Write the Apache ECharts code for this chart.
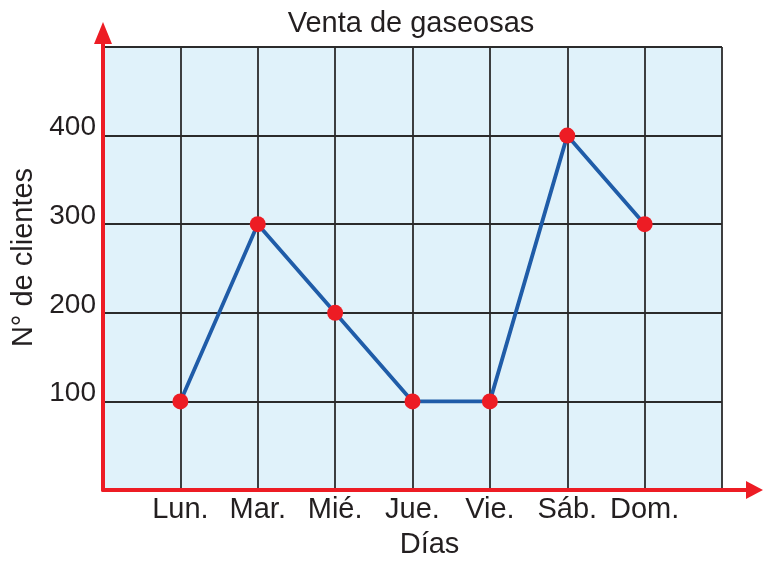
<!DOCTYPE html>
<html>
<head>
<meta charset="utf-8">
<script src="https://cdn.jsdelivr.net/npm/echarts@6/dist/echarts.min.js"></script>
<style>
  html, body { margin: 0; padding: 0; background: #ffffff; }
  #chart { width: 763px; height: 564px; }
</style>
</head>
<body>
<div id="chart"></div>
<script>
// Daily soda sales: number of customers per weekday
const days = ['Lun.', 'Mar.', 'Mié.', 'Jue.', 'Vie.', 'Sáb.', 'Dom.'];
const clientes = [100, 300, 200, 100, 100, 400, 300];
const yTicks = [100, 200, 300, 400];

// Empty slots at both ends leave a blank column on each side of the days
const categories = [''].concat(days, ['']);
const seriesData = ['-'].concat(clientes, ['-']);

const FONT = '"Liberation Sans", Arial, Helvetica, sans-serif';
const TEXT = '#231f20';
const RED = '#ed1c24';

const chart = echarts.init(document.getElementById('chart'), null, { renderer: 'canvas' });

chart.setOption({
  backgroundColor: '#ffffff',
  animation: false,
  title: {
    text: 'Venta de gaseosas',
    left: 406,
    top: 4,
    textAlign: 'center',
    textStyle: { fontFamily: FONT, fontSize: 29, fontWeight: 'normal', color: TEXT }
  },
  grid: {
    left: 103, right: 41, top: 47, bottom: 74,
    show: true,
    backgroundColor: '#e0f2fa',
    borderWidth: 0
  },
  xAxis: {
    type: 'category',
    data: categories,
    boundaryGap: false,
    name: 'Días',
    nameLocation: 'middle',
    nameGap: 40,
    nameTextStyle: { fontFamily: FONT, fontSize: 29, color: TEXT, padding: [0, 0, 0, 34] },
    axisLine: { show: true, lineStyle: { color: RED, width: 4 } },
    axisTick: { show: false },
    axisLabel: {
      fontFamily: FONT, fontSize: 29, color: TEXT, margin: 5,
      interval: 0
    },
    splitLine: { show: true, lineStyle: { color: '#2b2b2b', width: 1.8 } }
  },
  yAxis: {
    type: 'value',
    min: 0,
    max: 500,
    interval: 100,
    name: 'N° de clientes',
    nameLocation: 'middle',
    nameGap: 64,
    nameTextStyle: { fontFamily: FONT, fontSize: 29, color: TEXT, padding: [0, 0, 0, 22] },
    axisLine: { show: true, lineStyle: { color: RED, width: 4 } },
    axisTick: { show: false },
    axisLabel: {
      fontFamily: FONT, fontSize: 28, color: TEXT, margin: 7,
      verticalAlign: 'bottom',
      lineHeight: 16,
      formatter: function (v) { return yTicks.indexOf(v) >= 0 ? String(v) : ''; }
    },
    splitLine: { show: true, lineStyle: { color: '#2b2b2b', width: 1.8 } }
  },
  series: [{
    type: 'line',
    data: seriesData,
    symbol: 'circle',
    symbolSize: 16,
    lineStyle: { color: '#1f5ca8', width: 3.8 },
    itemStyle: { color: RED, borderWidth: 0 },
    z: 5
  }],
  // Red axis arrows extending past the plotting area
  graphic: [
    { type: 'line', shape: { x1: 103, y1: 48, x2: 103, y2: 38 }, style: { stroke: RED, lineWidth: 4 }, z: 10 },
    { type: 'polygon', shape: { points: [[103, 22], [94, 44], [112, 44]] }, style: { fill: RED }, z: 10 },
    { type: 'line', shape: { x1: 720, y1: 490, x2: 752, y2: 490 }, style: { stroke: RED, lineWidth: 4 }, z: 10 },
    { type: 'polygon', shape: { points: [[763, 490], [746, 481], [746, 499]] }, style: { fill: RED }, z: 10 }
  ]
});
</script>
</body>
</html>
